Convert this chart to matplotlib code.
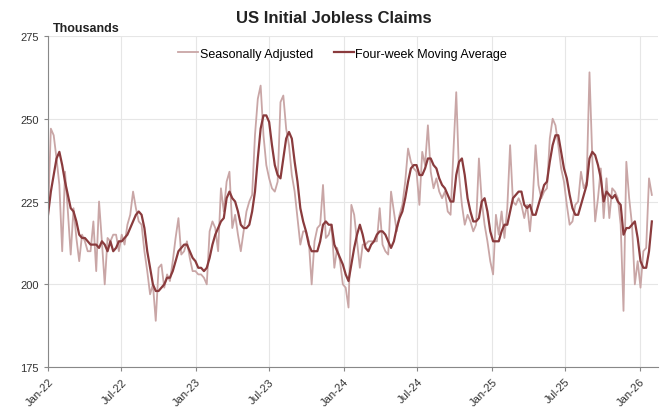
import numpy as np
import pandas as pd
import matplotlib
matplotlib.use("Agg")
import matplotlib.pyplot as plt
import matplotlib.dates as mdates

plt.rcParams['font.family'] = ['Liberation Sans', 'DejaVu Sans']

# -----------------------
# Weekly claims, thousands (week ending Saturday)
# -----------------------
start_week = "2022-01-01"

seasonally_adjusted = [
    221, 247, 245, 238, 230, 210, 234, 222, 209, 223,
    214, 207, 215, 213, 210, 210, 219, 204, 225, 213,
    200, 214, 213, 215, 215, 210, 215, 212, 218, 221,
    228, 223, 219, 218, 210, 204, 197, 200, 189, 205,
    206, 199, 203, 201, 207, 214, 220, 209, 210, 213,
    208, 204, 204, 203, 203, 202, 200, 216, 219, 217,
    210, 229, 222, 231, 234, 217, 221, 215, 210, 216,
    222, 225, 227, 245, 256, 260, 245, 236, 232, 229,
    228, 231, 255, 257, 247, 242, 233, 228, 220, 212,
    216, 216, 213, 200, 213, 217, 218, 230, 214, 215,
    218, 205, 211, 207, 200, 199, 193, 224, 221, 213,
    205, 212, 212, 213, 213, 213, 213, 223, 212, 210,
    209, 228, 222, 216, 221, 224, 231, 241, 237, 235,
    234, 224, 240, 236, 248, 234, 229, 232, 228, 226,
    228, 222, 221, 240, 258, 233, 224, 218, 221, 219,
    216, 218, 238, 225, 218, 213, 207, 203, 221, 215,
    222, 214, 223, 242, 225, 224, 226, 224, 220, 224,
    216, 226, 242, 230, 226, 228, 229, 244, 250, 248,
    242, 235, 231, 224, 218, 219, 224, 225, 234, 229,
    231, 264, 238, 219, 226, 235, 220, 232, 220, 229,
    228, 226, 218, 192, 237, 226, 218, 200, 207, 199,
    210, 211, 232, 227,
]

moving_average = [
    221, 228, 233, 238, 240, 236, 231, 227, 223, 222,
    219, 215, 214, 214, 213, 212, 212, 212, 211, 213,
    212, 210, 213, 210, 211, 213, 213, 214, 215, 217,
    219, 221, 222, 221, 217, 210, 205, 200, 198, 198,
    199, 200, 202, 202, 204, 207, 210, 211, 212, 212,
    210, 208, 207, 205, 205, 204, 205, 208, 212, 215,
    217, 219, 220, 226, 228, 226, 225, 222, 218, 217,
    217, 218, 222, 228, 238, 247, 251, 251, 249, 242,
    236, 233, 232, 238, 244, 246, 244, 237, 231, 223,
    219, 216, 212, 210, 210, 210, 213, 218, 219, 218,
    218, 212, 210, 208, 206, 203, 201, 206, 211, 215,
    218, 215, 211, 210, 212, 213, 215, 216, 216, 215,
    213, 211, 213, 217, 220, 222, 226, 231, 235, 236,
    236, 233, 233, 235, 238, 238, 236, 235, 232, 230,
    229, 227, 225, 225, 233, 237, 238, 233, 226, 222,
    219, 219, 220, 225, 226, 222, 216, 213, 213, 213,
    216, 218, 218, 222, 226, 227, 228, 228, 224, 223,
    224, 221, 221, 224, 227, 230, 231, 237, 242, 245,
    245, 240, 235, 232, 227, 223, 221, 221, 224, 227,
    230, 238, 240, 239, 236, 232, 225, 228, 227, 226,
    227, 225, 224, 215, 217, 217, 218, 219, 214, 207,
    205, 205, 210, 219,
]

weeks = pd.date_range(start_week, periods=len(seasonally_adjusted), freq="7D")

y_ticks = [175, 200, 225, 250, 275]

# -----------------------
# Plot
# -----------------------
fig = plt.figure(figsize=(6.67, 4.10), dpi=100)
ax = fig.add_axes([0.072, 0.102, 0.915, 0.808])

ax.plot(weeks, seasonally_adjusted, color="#c9a6a6", lw=1.3,
        label="Seasonally Adjusted")
ax.plot(weeks, moving_average, color="#8a3b3d", lw=1.6,
        label="Four-week Moving Average")

ax.set_ylim(175, 275)
ax.set_yticks(y_ticks)
ax.set_xlim(pd.Timestamp("2022-01-01"), pd.Timestamp("2026-02-16"))
ax.xaxis.set_major_locator(mdates.MonthLocator(bymonth=[1, 7]))
ax.xaxis.set_major_formatter(mdates.DateFormatter("%b-%y"))

for lbl in ax.get_xticklabels():
    lbl.set_rotation(45)
    lbl.set_ha("right")
    lbl.set_rotation_mode("anchor")

ax.tick_params(axis="both", labelsize=8, colors="#333333", length=3,
               color="#888888")
ax.grid(True, color="#e6e6e6", lw=0.8)
ax.set_axisbelow(True)

for side in ["top", "right"]:
    ax.spines[side].set_visible(False)
for side in ["left", "bottom"]:
    ax.spines[side].set_color("#888888")

ax.legend(loc="center", bbox_to_anchor=(0.483, 0.946), ncol=2,
          frameon=False, fontsize=9, handlelength=1.6, handletextpad=0.15,
          columnspacing=1.6)

fig.text(0.5, 0.955, "US Initial Jobless Claims", ha="center", va="center",
         fontsize=12, fontweight="bold", color="#222222")
fig.text(0.079, 0.929, "Thousands", ha="left", va="center",
         fontsize=9, fontweight="bold", color="#222222")

fig.savefig("out.png", dpi=100)
